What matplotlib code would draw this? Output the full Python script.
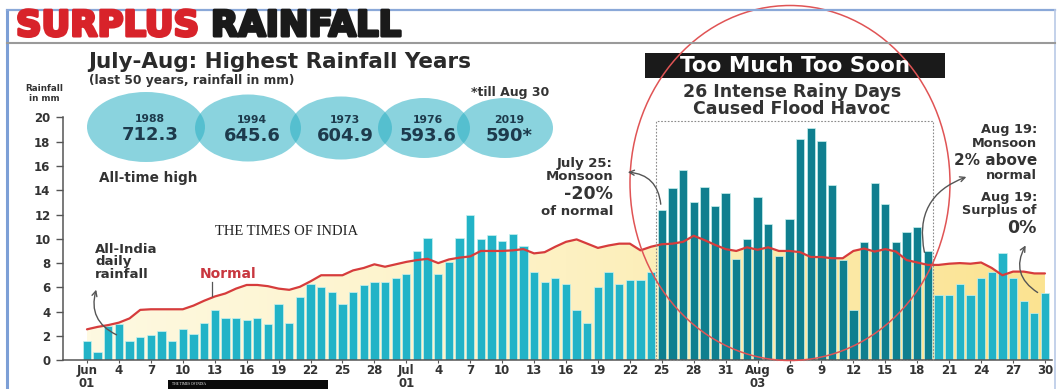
import matplotlib
matplotlib.use('Agg')
import matplotlib.pyplot as plt
import matplotlib.patheffects as pe
import numpy as np
from matplotlib.patches import Ellipse, Rectangle, FancyArrowPatch
from matplotlib.colors import LinearSegmentedColormap

# ---------------- data ----------------
rain_jun = [1.6, 0.7, 2.8, 3.0, 1.6, 1.95, 2.1, 2.4, 1.6, 2.6, 2.2, 3.05, 4.1, 3.5, 3.5,
            3.3, 3.5, 3.0, 4.6, 3.1, 5.2, 6.3, 6.0, 5.6, 4.6, 5.6, 6.2, 6.45, 6.45, 6.8]
rain_jul = [7.1, 9.0, 10.1, 7.1, 8.1, 10.1, 12.0, 10.0, 10.3, 9.8, 10.4, 9.4, 7.3, 6.45, 6.8,
            6.3, 4.1, 3.05, 6.0, 7.3, 6.3, 6.6, 6.6, 7.25, 12.4, 14.15, 15.7, 13.0, 14.3, 12.7, 13.8]
rain_aug = [8.3, 10.0, 13.4, 11.2, 8.6, 11.6, 18.2, 19.15, 18.05, 14.4, 8.25, 4.1, 9.75, 14.6, 12.9,
            9.75, 10.55, 11.0, 9.0, 5.35, 5.35, 6.3, 5.35, 6.8, 7.25, 8.8, 6.8, 4.9, 3.9, 5.5]

normal_jun = [2.55, 2.75, 2.9, 3.1, 3.45, 4.15, 4.2, 4.2, 4.2, 4.2, 4.5, 4.9, 5.25, 5.5, 5.9,
              6.2, 6.2, 6.1, 5.9, 5.8, 6.05, 6.5, 7.0, 7.0, 7.0, 7.4, 7.6, 7.9, 7.7, 7.9]
normal_jul = [8.1, 8.25, 8.35, 8.0, 8.3, 8.45, 8.55, 9.0, 9.0, 9.0, 9.05, 9.15, 8.8, 8.9, 9.35,
              9.75, 9.95, 9.6, 9.25, 9.45, 9.6, 9.6, 9.05, 9.35, 9.55, 9.6, 9.75, 10.25, 9.9, 9.5, 9.15]
normal_aug = [9.0, 9.3, 9.1, 9.3, 9.0, 9.0, 8.9, 8.5, 8.5, 8.4, 8.4, 9.0, 9.2, 8.95, 9.15,
              8.95, 8.25, 8.05, 7.85, 7.85, 7.95, 8.0, 7.95, 8.05, 7.6, 7.0, 7.3, 7.3, 7.15, 7.15]

intense_first = 54   # Jul 25
intense_last = 79    # Aug 19

tick_days = list(range(0, 91, 3))
tick_labels = ['Jun\n01', '4', '7', '10', '13', '16', '19', '22', '25', '28',
               'Jul\n01', '4', '7', '10', '13', '16', '19', '22', '25', '28', '31',
               'Aug\n03', '6', '9', '12', '15', '18', '21', '24', '27', '30']
y_ticks = [0, 2, 4, 6, 8, 10, 12, 14, 16, 18, 20]

top_years = ['1988', '1994', '1973', '1976', '2019']
top_values = ['712.3', '645.6', '604.9', '593.6', '590*']

rainfall = np.array(rain_jun + rain_jul + rain_aug)
normal = np.array(normal_jun + normal_jul + normal_aug)
days = np.arange(len(rainfall))

# ---------------- figure ----------------
W, H = 1058, 389
fig = plt.figure(figsize=(W / 100, H / 100), dpi=100)
fig.patch.set_facecolor('white')

LIGHT = '#22b3c7'
DARK = '#0f7f8f'
RED = '#d63c3c'
TXT = '#333333'

# chart axes positioned in pixels
px_day0, px_per_day = 87.0, 10.644
ax_l, ax_r, ax_b, ax_t = 63, 1052, 360.3, 117.3
ax = fig.add_axes([ax_l / W, (H - ax_b) / H, (ax_r - ax_l) / W, (ax_b - ax_t) / H])
ax.set_xlim((ax_l - px_day0) / px_per_day, (ax_r - px_day0) / px_per_day)
ax.set_ylim(0, 20)
ax.patch.set_alpha(0)

# gradient fill under the normal line
cmap = LinearSegmentedColormap.from_list('y', ['#fef9e1', '#fdf1c2', '#fbe391'])
grad = np.linspace(0, 1, 256).reshape(1, -1)
poly = ax.fill_between(days, 0, normal, color='none', lw=0)
im = ax.imshow(grad, cmap=cmap, aspect='auto', extent=[days[0], days[-1], 0, 12],
               origin='lower', zorder=1)
im.set_clip_path(poly.get_paths()[0], transform=ax.transData)

colors = [DARK if intense_first <= d <= intense_last else LIGHT for d in days]
ax.bar(days, rainfall, width=0.78, color=colors, edgecolor='#c9f1ee', linewidth=0.5, zorder=2)
ax.plot(days, normal, color=RED, lw=1.6, zorder=3, solid_capstyle='round')

# dashed box around intense days
ax.add_patch(Rectangle((intense_first - 0.5, 0), intense_last - intense_first + 1, 19.7,
                       fill=False, ls=(0, (1.5, 1.5)), lw=0.8, ec='#8a8a8a', zorder=4, clip_on=False))

ax.set_yticks(y_ticks)
ax.set_yticklabels([str(v) for v in y_ticks], fontsize=8.5, fontweight='bold', color=TXT)
ax.set_xticks(tick_days)
ax.set_xticklabels(tick_labels, fontsize=8.5, fontweight='bold', color=TXT, linespacing=0.95)
ax.tick_params(axis='y', direction='out', length=5, width=1, color='#555555', pad=4)
ax.tick_params(axis='x', direction='out', length=2, width=0.8, color='#555555', pad=1)
for s in ['top', 'right']:
    ax.spines[s].set_visible(False)
ax.spines['left'].set_color('#555555')
ax.spines['bottom'].set_color('#555555')
ax.spines['left'].set_linewidth(1.1)
ax.spines['bottom'].set_linewidth(1.1)

# ---------------- overlay in pixel coords ----------------
ov = fig.add_axes([0, 0, 1, 1], zorder=5)
ov.set_xlim(0, W)
ov.set_ylim(H, 0)
ov.axis('off')
ov.patch.set_alpha(0)

# frame
ov.plot([7, 7], [H, 9.5], color='#7d9fd6', lw=2.2, solid_capstyle='butt')
ov.plot([7, 1055], [9.5, 9.5], color='#8aa8d8', lw=1.6)
ov.plot([1055, 1055], [9.5, H], color='#b9c9e6', lw=1.2)
ov.plot([7, 1055], [42.5, 42.5], color='#9a9a9a', lw=1.5)

# title (extra stroke for a black-weight look)
t1 = ov.text(16, 26, 'SURPLUS', color='#d8232a', fontsize=25.5, fontweight='bold',
             va='center', ha='left', family='DejaVu Sans',
             path_effects=[pe.withStroke(linewidth=2.2, foreground='#d8232a')])
fig.canvas.draw()
bb = t1.get_window_extent()
x_end = ov.transData.inverted().transform((bb.x1, bb.y0))[0]
ov.text(x_end + 12, 26, 'RAINFALL', color='#1a1a1a', fontsize=25.5, fontweight='bold',
        va='center', ha='left', family='DejaVu Sans',
        path_effects=[pe.withStroke(linewidth=2.2, foreground='#1a1a1a')])

ov.text(88, 62, 'July-Aug: Highest Rainfall Years', fontsize=15.5, fontweight='bold',
        color='#2a2a2a', va='center', ha='left')
ov.text(89, 80, '(last 50 years, rainfall in mm)', fontsize=8.8, fontweight='bold',
        color=TXT, va='center', ha='left')
ov.text(549, 92, '*till Aug 30', fontsize=9, fontweight='bold', color=TXT, va='center', ha='right')
ov.text(44, 88, 'Rainfall', fontsize=6.3, fontweight='bold', color=TXT, va='center', ha='center')
ov.text(44, 98, 'in mm', fontsize=6.3, fontweight='bold', color=TXT, va='center', ha='center')

# ellipses with top years
ell = [(146, 127, 118, 70), (248, 128, 106, 67), (341, 128, 102, 63), (424, 128, 92, 60), (505, 128, 96, 60)]
for (cx, cy, w, h), yr, val in zip(ell, top_years, top_values):
    ov.add_patch(Ellipse((cx, cy), w, h, facecolor='#2bb0c4', alpha=0.55, lw=0))
    ov.text(cx + 4, cy - 8, yr, fontsize=7.8, fontweight='bold', color='#1d3a4c', ha='center', va='center')
    ov.text(cx + 4, cy + 8, val, fontsize=13, fontweight='bold', color='#1d3a4c', ha='center', va='center')
ov.text(99, 178, 'All-time high', fontsize=9.8, fontweight='bold', color=TXT, ha='left', va='center')

# Times of India mark
ov.text(287, 231, 'THE TIMES OF INDIA', fontsize=10.5, family='Liberation Serif', color='#222222',
        ha='center', va='center')

# left annotations
for i, s in enumerate(['All-India', 'daily', 'rainfall']):
    ov.text(95, 249 + i * 12.5, s, fontsize=9.5, fontweight='bold', color=TXT, ha='left', va='center')
ov.add_patch(FancyArrowPatch((119, 336), (97, 287), connectionstyle='arc3,rad=-0.45',
                             arrowstyle='->', mutation_scale=9, color='#555555', lw=1))
ov.text(200, 274, 'Normal', fontsize=10, fontweight='bold', color='#c8373f', ha='left', va='center')
ov.plot([212, 212], [282, 296], color='#555555', lw=0.9)

# too much too soon
ov.add_patch(Rectangle((645, 53), 300, 25, facecolor='#1a1a1a', lw=0))
ov.text(795, 66, 'Too Much Too Soon', fontsize=15.5, fontweight='bold', color='white', ha='center', va='center')
ov.text(792, 92, '26 Intense Rainy Days', fontsize=12.5, fontweight='bold', color=TXT, ha='center', va='center')
ov.text(792, 109, 'Caused Flood Havoc', fontsize=12.5, fontweight='bold', color=TXT, ha='center', va='center')
ov.add_patch(Ellipse((790, 183), 320, 355, fill=False, ec='#e05455', lw=1.1))

# july 25 annotation
ov.text(613, 163, 'July 25:', fontsize=9.5, fontweight='bold', color=TXT, ha='right', va='center')
ov.text(613, 176, 'Monsoon', fontsize=9.5, fontweight='bold', color=TXT, ha='right', va='center')
ov.text(613, 194, '-20%', fontsize=12.5, fontweight='bold', color=TXT, ha='right', va='center')
ov.text(613, 211, 'of normal', fontsize=9.5, fontweight='bold', color=TXT, ha='right', va='center')
ov.add_patch(FancyArrowPatch((661, 207), (625, 172), connectionstyle='arc3,rad=0.45',
                             arrowstyle='->', mutation_scale=9, color='#555555', lw=1))

# aug 19 annotations
ov.text(1037, 130, 'Aug 19:', fontsize=9.3, fontweight='bold', color=TXT, ha='right', va='center')
ov.text(1037, 143, 'Monsoon', fontsize=9.3, fontweight='bold', color=TXT, ha='right', va='center')
ov.text(1037, 160, '2% above', fontsize=11, fontweight='bold', color=TXT, ha='right', va='center')
ov.text(1037, 175, 'normal', fontsize=9.3, fontweight='bold', color=TXT, ha='right', va='center')
ov.add_patch(FancyArrowPatch((925, 255), (969, 176), connectionstyle='arc3,rad=-0.45',
                             arrowstyle='->', mutation_scale=9, color='#555555', lw=1))
ov.text(1037, 197, 'Aug 19:', fontsize=9.3, fontweight='bold', color=TXT, ha='right', va='center')
ov.text(1037, 210, 'Surplus of', fontsize=9.3, fontweight='bold', color=TXT, ha='right', va='center')
ov.text(1037, 228, '0%', fontsize=12.5, fontweight='bold', color=TXT, ha='right', va='center')
ov.add_patch(FancyArrowPatch((1040, 294), (1027, 243), connectionstyle='arc3,rad=-0.5',
                             arrowstyle='->', mutation_scale=9, color='#555555', lw=1))

# footer strip
ov.add_patch(Rectangle((168, 380), 160, 10, facecolor='#0a0a0a', lw=0, clip_on=False))
ov.text(172, 384, 'THE TIMES OF INDIA', fontsize=2.5, color='white', ha='left', va='center',
        family='Liberation Serif')

fig.savefig('out.png', dpi=100, facecolor='white')
